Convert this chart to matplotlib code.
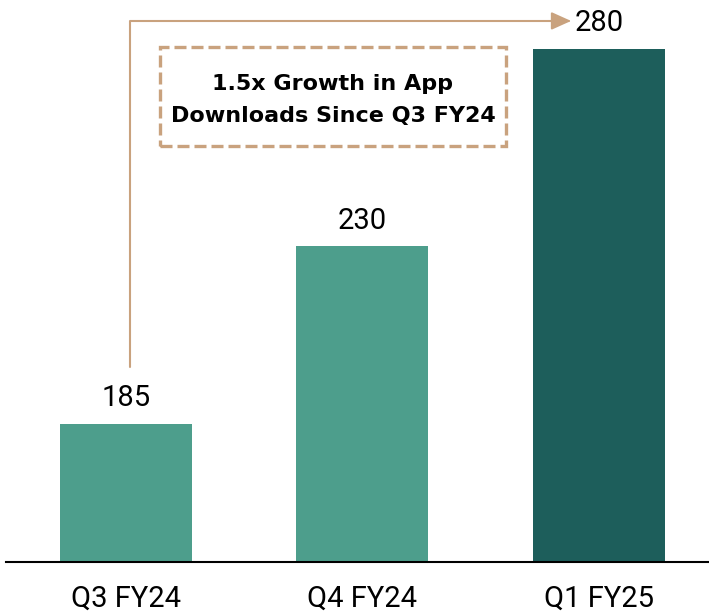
import matplotlib
matplotlib.use('Agg')
import matplotlib.pyplot as plt
from matplotlib.patches import Rectangle

# Données
quarters = ['Q3 FY24', 'Q4 FY24', 'Q1 FY25']
downloads = [185, 230, 280]
bar_colors = ['#4D9E8C', '#4D9E8C', '#1D5E5B']
callout = '1.5x Growth in App\nDownloads Since Q3 FY24'

tan = '#C9A27E'
plt.rcParams['font.family'] = ['Roboto', 'DejaVu Sans']

fig = plt.figure(figsize=(7.09, 6.15), dpi=100)
ax = fig.add_axes([6 / 709, 53 / 615, 703 / 709, 562 / 615])

x = list(range(len(quarters)))
ax.bar(x, downloads, width=0.558, color=bar_colors, zorder=2)

# Étiquettes de valeurs
for xi, v in zip(x, downloads):
    ax.annotate(str(v), (xi, v), xytext=(0, 12.5), textcoords='offset points',
                ha='center', va='baseline', fontsize=21)

ax.set_xlim(-0.507, 2.465)
ax.set_ylim(150, 292.3)
ax.set_xticks(x)
ax.set_xticklabels(quarters, fontsize=21)
ax.tick_params(axis='x', length=0, pad=16)
ax.set_yticks([])
for side in ['top', 'right', 'left']:
    ax.spines[side].set_visible(False)
ax.spines['bottom'].set_linewidth(1.5)
ax.spines['bottom'].set_color('black')

# Flèche coudée de Q3 vers Q1
ax.annotate('', xy=(x[2] - 0.118, downloads[2] + 7),
            xytext=(x[0] + 0.017, downloads[0] + 14.5),
            arrowprops=dict(arrowstyle='-|>,head_length=0.6,head_width=0.27',
                            connectionstyle='angle,angleA=90,angleB=0,rad=0',
                            color=tan, lw=1.5, mutation_scale=20,
                            shrinkA=0, shrinkB=0))

# Encadré
ax.add_patch(Rectangle((0.144, 255.3), 1.463, 25.1, fill=False, edgecolor=tan,
                       linewidth=2.4, linestyle=(0, (3.6, 1.5)), zorder=3))
ax.text(0.875, 267.0, callout, ha='center', va='center', fontsize=16,
        fontweight='bold', family='DejaVu Sans', linespacing=1.75)

fig.savefig('out.png', dpi=100)
